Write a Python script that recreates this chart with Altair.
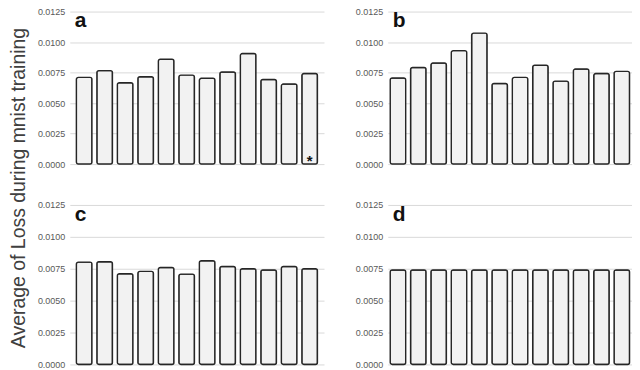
import altair as alt
import pandas as pd

runs = [str(i) for i in range(1, 13)]
loss_a = [0.00711, 0.00766, 0.00667, 0.00716, 0.00859, 0.00729, 0.00703, 0.00755, 0.00906, 0.00693, 0.00656, 0.00742]
loss_b = [0.00706, 0.00792, 0.00828, 0.00930, 0.01073, 0.00661, 0.00711, 0.00810, 0.00680, 0.00779, 0.00742, 0.00760]
loss_c = [0.00802, 0.00805, 0.00711, 0.00729, 0.00760, 0.00708, 0.00813, 0.00768, 0.00750, 0.00740, 0.00768, 0.00750]
loss_d = [0.00740] * 12
tick_values = [0.0, 0.0025, 0.005, 0.0075, 0.01, 0.0125]
y_title = "Average of Loss during mnist training"
star_run = ["12"]

LABEL_FONT = "Liberation Sans"


def panel(vals, letter, width, height, po, letter_y, star=False):
    df = pd.DataFrame({"run": runs, "loss": vals})
    x = alt.X("run:O", sort=runs, axis=None,
              scale=alt.Scale(paddingInner=0.24, paddingOuter=po))
    y = alt.Y("loss:Q", scale=alt.Scale(domain=[0, 0.0125], nice=False),
              axis=alt.Axis(values=tick_values, format=".4f", title=None,
                            domain=False, ticks=False, labelPadding=5,
                            labelOverlap=False,
                            labelFontSize=9, labelFont=LABEL_FONT,
                            labelColor="#595959", gridColor="#d9d9d9",
                            gridWidth=1))
    bars = alt.Chart(df).mark_bar(fill="#f2f2f2", stroke="#262626",
                                  strokeWidth=1.4, cornerRadius=2).encode(x=x, y=y)
    lab = alt.Chart(pd.DataFrame({"t": [letter]})).mark_text(
        font="Liberation Sans", fontWeight="bold", fontSize=21, align="left",
        baseline="alphabetic", color="#111111").encode(
        text="t:N", x=alt.value(5), y=alt.value(letter_y))
    layers = [bars, lab]
    if star:
        sdf = pd.DataFrame({"run": star_run, "loss": [0.0], "t": ["*"]})
        st = alt.Chart(sdf).mark_text(fontSize=15, fontWeight="bold", dy=2,
                                      baseline="alphabetic", color="#111111",
                                      font="Liberation Sans").encode(
            x=x, y=y, text="t:N")
        layers.append(st)
    return alt.layer(*layers).properties(width=width, height=height)


a = panel(loss_a, "a", 255, 153, 0.32, 15, star=True)
b = panel(loss_b, "b", 245, 153, 0.12, 15)
c = panel(loss_c, "c", 255, 160, 0.32, 16)
d = panel(loss_d, "d", 245, 160, 0.12, 16)

grid = alt.vconcat(alt.hconcat(a, b, spacing=31),
                   alt.hconcat(c, d, spacing=31), spacing=32)

title_chart = alt.Chart(pd.DataFrame({"t": [y_title]})).mark_text(
    angle=270, fontSize=19.5, font="Liberation Sans", color="#404040",
    align="center", baseline="middle").encode(
    text="t:N", x=alt.value(9), y=alt.value(177)).properties(width=18, height=355)

chart = alt.hconcat(title_chart, grid, spacing=8).properties(
    padding={"left": 0, "top": -1, "right": 0, "bottom": 0},
    background="white"
).configure_view(stroke=None)

chart.save("out.html", embed_options={"renderer": "svg", "actions": False})
